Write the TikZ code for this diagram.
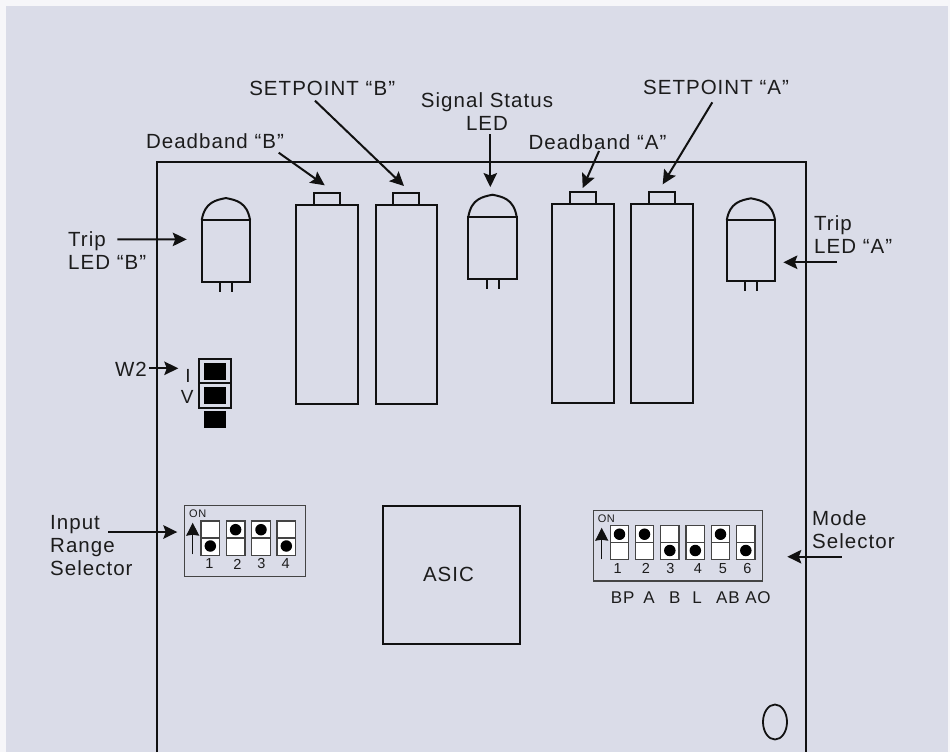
\documentclass[tikz,border=0pt]{standalone}
\usepackage{fontspec}
\setmainfont[LetterSpace=5]{Liberation Sans}
\usetikzlibrary{arrows.meta,shapes.geometric}
\definecolor{ink}{HTML}{111111}
\definecolor{txt}{HTML}{1C1C1C}
\definecolor{bg}{HTML}{DADCE8}
\definecolor{rim}{HTML}{F6F6F9}
\definecolor{dipline}{HTML}{444444}
\tikzset{
  ln/.style={draw=ink,line width=2pt},
  pot/.style={ln,minimum width=61.7pt,minimum height=199pt,inner sep=0pt,outer sep=0pt},
  pottab/.style={ln,minimum width=26pt,minimum height=12pt,inner sep=0pt,outer sep=0pt},
  ledbody/.style={ln,minimum width=48.3pt,inner sep=0pt,outer sep=0pt},
  jmpcell/.style={ln,minimum width=31.4pt,minimum height=24.4pt,inner sep=0pt,outer sep=0pt},
  jmpblk/.style={fill=black,minimum width=22.6pt,minimum height=17.3pt,inner sep=0pt,outer sep=0pt},
  dipbox/.style={draw=dipline,line width=1.3pt,inner sep=0pt,outer sep=0pt},
  dipsw/.style={draw=dipline,fill=white,line width=1.3pt,minimum width=18.6pt,minimum height=34.3pt,inner sep=0pt,outer sep=0pt},
  dipdot/.style={circle,fill=black,minimum size=11.5pt,inner sep=0pt},
  lab/.style={font=\fontsize{20.5}{23}\selectfont,inner sep=0pt,text=txt},
  labm/.style={font=\fontsize{17}{20}\selectfont,inner sep=0pt,text=txt},
  labn/.style={font=\fontsize{14.5}{16}\selectfont,inner sep=0pt,text=txt},
  labs/.style={font=\fontsize{11}{12}\selectfont,inner sep=0pt,text=txt},
  arw/.style={-{Stealth[length=14pt,width=13.5pt,inset=2.5pt]},line width=2pt,ink},
  arwup/.style={-{Stealth[length=13pt,width=13pt,inset=1pt]},line width=1.1pt,ink}
}
\newcommand{\ledlamp}[4]{%
  \node[ledbody,minimum height=#4pt] (#1) at (#2,#3) {};
  \draw[ln] (#1.north west) .. controls +(3,-18) and +(-10,2) .. ([yshift=22pt]#1.north) .. controls +(10,2) and +(-3,-18) .. (#1.north east);
  \draw[ln] ([xshift=-6pt]#1.south) -- +(0,10);
  \draw[ln] ([xshift=6pt]#1.south) -- +(0,10);
}
\newcommand{\dipup}[3]{%
  \node[dipsw] (#1) at (#2,#3) {};
  \draw[draw=dipline,line width=1.3pt] (#1.west) -- (#1.east);
  \node[dipdot] (#1dot) at ([yshift=8.3pt]#1.center) {};
}
\newcommand{\dipdown}[3]{%
  \node[dipsw] (#1) at (#2,#3) {};
  \draw[draw=dipline,line width=1.3pt] (#1.west) -- (#1.east);
  \node[dipdot] (#1dot) at ([yshift=-8pt]#1.center) {};
}

\begin{document}
\begin{tikzpicture}[x=1pt,y=-1pt]
\useasboundingbox (0,0) rectangle (950,752);
\fill[rim] (0,0) rectangle (950,752);
\fill[bg] (6,6) rectangle (948,752);
% board outline, runs off the bottom
\draw[ink,line width=2pt] (156.7,752) -- (156.7,161.7) -- (806.3,161.7) -- (806.3,752);
\node[draw=ink,line width=1.8pt,ellipse,minimum width=24pt,minimum height=35pt,inner sep=0pt] (hole) at (775,722) {};
% trimmers
\node[pot]    (potDbB)  at (326.9,304.5) {};
\node[pottab] (tabDbB)  at (326.9,199.3) {};
\node[pot]    (potSetB) at (406.5,304.5) {};
\node[pottab] (tabSetB) at (406.3,199.3) {};
\node[pot]    (potDbA)  at (582.7,303.4) {};
\node[pottab] (tabDbA)  at (582.7,198) {};
\node[pot]    (potSetA) at (662.2,303.4) {};
\node[pottab] (tabSetA) at (662.2,198) {};
% leds
\ledlamp{ledB}{225.9}{250.9}{61.7}
\ledlamp{ledSig}{492.5}{247.9}{62.3}
\ledlamp{ledA}{750.9}{250.8}{61}
% jumper W2
\node[jmpcell] (jmpI) at (215,371.1) {};
\node[jmpcell] (jmpV) at (215,395.5) {};
\node[jmpblk] (blkI) at (215,371.3) {};
\node[jmpblk] (blkV) at (215,395.3) {};
\node[jmpblk] (blkP) at (215,419.2) {};
\node[lab,font=\fontsize{19}{20}\selectfont] (lbI) at (188,375.7) {I};
\node[lab,font=\fontsize{19}{20}\selectfont] (lbV) at (187.3,397.3) {V};
% range dip
\node[dipbox,minimum width=121pt,minimum height=70.6pt] (dipA) at (245.2,541) {};
\dipdown{swA}{210.3}{538}
\dipup{swB}{235.6}{538}
\dipup{swC}{261}{538}
\dipdown{swD}{286.3}{538}
\node[labn] (nA) at (209.3,564) {1};
\node[labn] (nB) at (237.3,564) {2};
\node[labn] (nC) at (261.3,564) {3};
\node[labn] (nD) at (285.7,564) {4};
\node[labs] (onA) at (197.7,514) {ON};
\coordinate (upA) at (192.7,554.3);
\draw[arwup] (upA) -- +(0,-31.6);
% mode dip
\node[dipbox,minimum width=168.6pt,minimum height=70.3pt] (dipB) at (678,545.9) {};
\dipup{mdA}{619.5}{542.5}
\dipup{mdB}{644.5}{542.5}
\dipdown{mdC}{669.8}{542.5}
\dipdown{mdD}{695.3}{542.5}
\dipup{mdE}{720.5}{542.5}
\dipdown{mdF}{745.8}{542.5}
\node[labn] (mA) at (617.7,568.7) {1};
\node[labn] (mB) at (646,568.7) {2};
\node[labn] (mC) at (670.3,568.7) {3};
\node[labn] (mD) at (698,568.7) {4};
\node[labn] (mE) at (723,568.7) {5};
\node[labn] (mF) at (747.3,568.7) {6};
\node[labs] (onB) at (606.3,519) {ON};
\coordinate (upB) at (601.7,559.3);
\draw[arwup] (upB) -- +(0,-31.6);
\node[labm] (fnA) at (622.7,597.6) {BP};
\node[labm] (fnB) at (649,597.6) {A};
\node[labm] (fnC) at (674.7,597.6) {B};
\node[labm] (fnD) at (697,597.6) {L};
\node[labm] (fnE) at (728,597.6) {AB};
\node[labm] (fnF) at (758,597.6) {AO};
% asic
\node[ln,minimum width=137pt,minimum height=138pt,inner sep=0pt] (asic) at (451.5,575) {};
\node[lab] (lbAsic) at (448.5,574) {ASIC};
% labels
\node[lab] (lbSetB) at (322.2,88) {SETPOINT “B”};
\node[lab] (lbDbB) at (215,141) {Deadband “B”};
\node[lab,align=center] (lbSig) at (487,111.5) {Signal Status\\LED};
\node[lab] (lbDbA) at (597.5,142) {Deadband “A”};
\node[lab] (lbSetA) at (716,87) {SETPOINT “A”};
\node[lab,align=left,anchor=west] (lbTripB) at (68,250.5) {Trip\\LED “B”};
\node[lab,align=left,anchor=west] (lbTripA) at (814,234.5) {Trip\\LED “A”};
\node[lab] (lbW2) at (131,369) {W2};
\node[lab,align=left,anchor=west] (lbRange) at (50,546) {Input\\Range\\Selector};
\node[lab,align=left,anchor=west] (lbMode) at (812,529.5) {Mode\\Selector};
% arrows
\draw[arw] ([shift={(-7.2,12.7)}]lbSetB.center) -- ([shift={(-2.3,-7.3)}]tabSetB.north);
\draw[arw] ([shift={(63.7,11.7)}]lbDbB.center) -- ([shift={(-2.2,-8)}]tabDbB.north);
\draw[arw] ([shift={(3.3,22.8)}]lbSig.center) -- ([shift={(-2.2,-29.7)}]ledSig.north);
\draw[arw] ([shift={(1.5,9)}]lbDbA.center) -- ([shift={(0,-4)}]tabDbA.north);
\draw[arw] ([shift={(-3.7,15.3)}]lbSetA.center) -- ([shift={(0.5,-7.7)}]tabSetA.north);
\draw[arw] ([shift={(49.3,-11.2)}]lbTripB.west) -- ([shift={(-15,-11.5)}]ledB.west);
\draw[arw] ([shift={(22.7,27.8)}]lbTripA.west) -- ([shift={(8.3,11.5)}]ledA.east);
\draw[arw] ([shift={(18,-0.7)}]lbW2.center) -- ([shift={(-21,-2.8)}]jmpI.west);
\draw[arw] ([shift={(58,-14)}]lbRange.west) -- ([shift={(-7.4,-9)}]dipA.west);
\draw[arw] ([shift={(29.7,27.2)}]lbMode.west) -- ([shift={(25,10.8)}]dipB.east);
\end{tikzpicture}
\end{document}
